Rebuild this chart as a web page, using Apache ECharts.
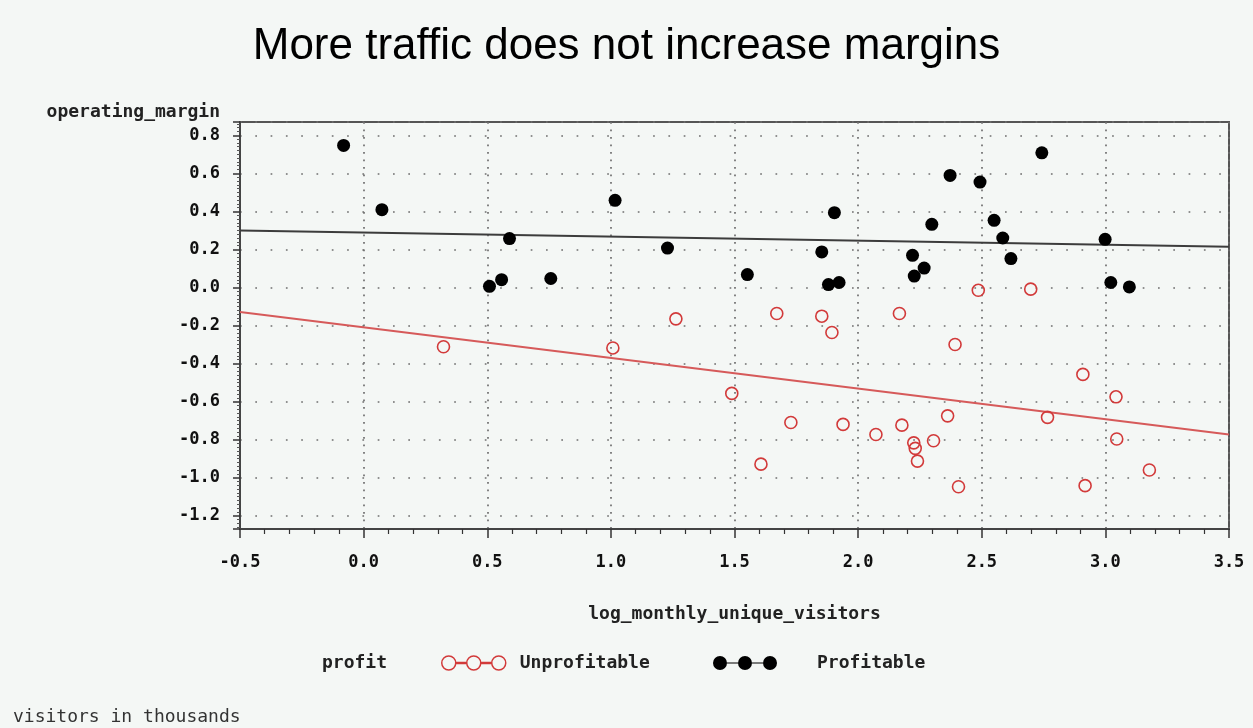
<!DOCTYPE html>
<html><head><meta charset="utf-8">
<script src="https://cdn.jsdelivr.net/npm/echarts@6/dist/echarts.min.js"></script>
<style>html,body{margin:0;padding:0;background:#f4f7f5}#c{width:1253px;height:728px}</style>
</head><body><div id="c"></div>
<script>
// ---- data ----
const chartTitle = 'More traffic does not increase margins';
const xName = 'log_monthly_unique_visitors';
const yName = 'operating_margin';
const legendTitle = 'profit';
const footnote = 'visitors in thousands';
const seriesNames = ['Unprofitable', 'Profitable'];

const profX = [-0.081, 0.074, 0.590, 0.509, 0.558, 0.757, 1.017, 1.229, 1.552, 1.904, 1.853, 1.880, 1.923, 2.298, 2.220, 2.267, 2.227, 2.372, 2.493, 2.743, 2.550, 2.585, 2.618, 2.999, 3.022, 3.097];
const profY = [0.747, 0.409, 0.257, 0.006, 0.041, 0.047, 0.458, 0.207, 0.068, 0.393, 0.187, 0.015, 0.026, 0.332, 0.169, 0.102, 0.060, 0.589, 0.554, 0.708, 0.353, 0.260, 0.152, 0.253, 0.026, 0.003];

const unprofX = [0.323, 1.008, 1.263, 1.489, 1.671, 1.728, 1.607, 1.853, 1.894, 1.939, 2.072, 2.167, 2.177, 2.225, 2.231, 2.240, 2.305, 2.362, 2.392, 2.406, 2.486, 2.698, 2.766, 2.909, 3.043, 3.046, 2.918, 3.178];
const unprofY = [-0.312, -0.318, -0.165, -0.557, -0.137, -0.710, -0.929, -0.151, -0.237, -0.720, -0.773, -0.137, -0.724, -0.817, -0.846, -0.913, -0.806, -0.675, -0.300, -1.048, -0.015, -0.009, -0.683, -0.457, -0.575, -0.797, -1.042, -0.960];

// fitted lines (endpoints)
const profFitX = [-0.5, 3.5];
const profFitY = [0.299, 0.214];
const unprofFitX = [-0.5, 3.5];
const unprofFitY = [-0.129, -0.773];

// axis extents
const xMin = -0.5, xMax = 3.5, xStep = 0.5;
const yMin = -1.27, yMax = 0.87;

// ---- build ----
const zip = (a, b) => a.map((v, i) => [v, b[i]]);
const MONO = 'DejaVu Sans Mono';
const ICON = 'path://M0,7A7,7,0,1,0,14,7A7,7,0,1,0,0,7Z M14,6.4L25,6.4L25,7.6L14,7.6Z M25,7A7,7,0,1,0,39,7A7,7,0,1,0,25,7Z M39,6.4L50,6.4L50,7.6L39,7.6Z M50,7A7,7,0,1,0,64,7A7,7,0,1,0,50,7Z';
const RED = '#d23a3a';

const chart = echarts.init(document.getElementById('c'), null, {renderer: 'canvas'});
chart.setOption({
  animation: false,
  backgroundColor: '#f4f7f5',
  title: [
    {text: chartTitle, left: 'center', top: 20,
     textStyle: {fontFamily: 'Liberation Sans', fontSize: 44, fontWeight: 'normal', color: '#000'}},
    {text: legendTitle, left: 317, top: 649,
     textStyle: {fontFamily: MONO, fontSize: 18, fontWeight: 'bold', color: '#222'}},
    {text: footnote, left: 8, top: 703,
     textStyle: {fontFamily: MONO, fontSize: 18, fontWeight: 'normal', color: '#333'}}
  ],
  legend: [
    {left: 436, top: 649, itemWidth: 64, itemHeight: 14, selectedMode: false,
     data: [{name: seriesNames[0], icon: ICON, itemStyle: {color: 'rgba(0,0,0,0)', borderColor: RED, borderWidth: 1.5, opacity: 1}}],
     textStyle: {fontFamily: MONO, fontSize: 18, fontWeight: 'bold', color: '#222', padding: [0, 0, 0, 9]}},
    {left: 708, top: 649, itemWidth: 64, itemHeight: 14, selectedMode: false,
     data: [{name: seriesNames[1], icon: ICON, itemStyle: {color: '#000', borderColor: '#000', borderWidth: 0, opacity: 1}}],
     textStyle: {fontFamily: MONO, fontSize: 18, fontWeight: 'bold', color: '#222', padding: [0, 0, 0, 35]}}
  ],
  grid: {left: 240, right: 24, top: 122, bottom: 199, containLabel: false, outerBoundsMode: 'none',
         show: true, borderColor: '#555', borderWidth: 2, backgroundColor: 'transparent'},
  xAxis: {
    type: 'value', min: xMin, max: xMax, interval: xStep,
    name: xName, nameLocation: 'middle', nameGap: 76,
    nameTextStyle: {fontFamily: MONO, fontSize: 18, fontWeight: 'bold', color: '#222'},
    axisLine: {show: true, onZero: false, lineStyle: {color: '#444', width: 2}},
    axisTick: {show: true, inside: false, length: 9, lineStyle: {color: '#333', width: 1.5}},
    minorTick: {show: true, splitNumber: 5, length: 5, lineStyle: {color: '#333', width: 1.2}},
    axisLabel: {margin: 25, fontFamily: MONO, fontSize: 17, fontWeight: 'bold', color: '#111',
                formatter: v => v.toFixed(1)},
    splitLine: {show: true, lineStyle: {color: '#6f6f6f', width: 1.7, type: [1.7, 5.8]}},
    minorSplitLine: {show: false}
  },
  yAxis: {
    type: 'value', min: yMin, max: yMax, splitNumber: 10,
    name: yName, nameLocation: 'end', nameGap: 1,
    nameTextStyle: {fontFamily: MONO, fontSize: 18, fontWeight: 'bold', color: '#222',
                    align: 'right', verticalAlign: 'bottom', padding: [0, 20, 0, 0]},
    axisLine: {show: true, onZero: false, lineStyle: {color: '#444', width: 2}},
    axisTick: {show: true, inside: false, length: 7, lineStyle: {color: '#333', width: 1.5}},
    minorTick: {show: true, splitNumber: 10, length: 3, lineStyle: {color: '#555', width: 1}},
    axisLabel: {margin: 20, fontFamily: MONO, fontSize: 17, fontWeight: 'bold', color: '#111',
                showMinLabel: false, showMaxLabel: false,
                formatter: v => v.toFixed(1)},
    splitLine: {show: true, lineStyle: {color: '#6f6f6f', width: 1.7, type: [1.7, 13.6]}},
    minorSplitLine: {show: false}
  },
  series: [
    {name: 'unprofFit', type: 'line', data: zip(unprofFitX, unprofFitY), symbol: 'none', silent: true, z: 1,
     lineStyle: {color: '#d65a5a', width: 2}},
    {name: 'profFit', type: 'line', data: zip(profFitX, profFitY), symbol: 'none', silent: true, z: 1,
     lineStyle: {color: '#3c3c3c', width: 2}},
    {name: seriesNames[0], type: 'scatter', data: zip(unprofX, unprofY), symbol: 'circle', symbolSize: 12, z: 3,
     itemStyle: {color: 'rgba(0,0,0,0)', borderColor: RED, borderWidth: 1.6, opacity: 1}},
    {name: seriesNames[1], type: 'scatter', data: zip(profX, profY), symbol: 'circle', symbolSize: 13, z: 4,
     itemStyle: {color: '#000', borderWidth: 0, opacity: 1}}
  ]
});
</script></body></html>
